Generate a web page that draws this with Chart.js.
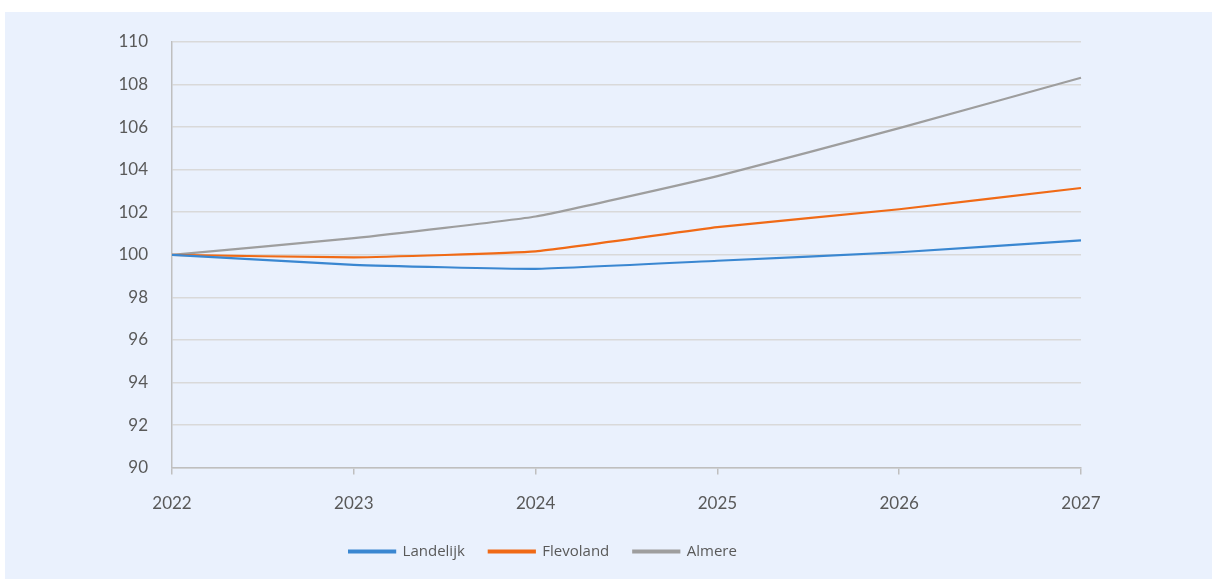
<!DOCTYPE html>
<html>
<head>
<meta charset="utf-8">
<script src="https://cdn.jsdelivr.net/npm/chart.js@4/dist/chart.umd.min.js"></script>
<style>
	html, body { margin: 0; padding: 0; background: #ffffff; }
	#panel { position: absolute; left: 5px; top: 12px; width: 1207px; height: 567px; background: #eaf1fd; }
</style>
</head>
<body>
<div id="panel"><canvas id="chart"></canvas></div>
<script>
var years = ['2022', '2023', '2024', '2025', '2026', '2027'];
var landelijk = [100, 99.53, 99.34, 99.72, 100.12, 100.68];
var flevoland = [100, 99.88, 100.16, 101.3, 102.14, 103.14];
var almere = [100, 100.78, 101.8, 103.7, 105.95, 108.32];
var yTicks = [90, 92, 94, 96, 98, 100, 102, 104, 106, 108, 110];

var colors = ['#3a87d1', '#f06a16', '#9e9e9e'];
var names = ['Landelijk', 'Flevoland', 'Almere'];
var series = [landelijk, flevoland, almere];

var datasets = [];
for (var i = 0; i < series.length; i++) {
	datasets.push({
		label: names[i],
		data: series[i],
		borderColor: colors[i],
		backgroundColor: colors[i],
		borderWidth: 2.2,
		pointRadius: 0,
		fill: false,
		tension: 0.12
	});
}

var tickFont = { family: 'Lato, "Open Sans", sans-serif', size: 17 };

var context = document.getElementById('chart').getContext('2d');
var chart = new Chart(context, {
	type: 'line',
	data: { labels: years, datasets: datasets },
	options: {
		responsive: true,
		maintainAspectRatio: false,
		animation: false,
		layout: { padding: { left: 0, right: 131, top: 30, bottom: 10 } },
		plugins: {
			legend: {
				position: 'bottom',
				labels: {
					boxWidth: 46,
					boxHeight: 2,
					padding: 24,
					color: '#595959',
					font: { family: '"Open Sans", sans-serif', size: 15 }
				}
			},
			tooltip: { enabled: false }
		},
		scales: {
			x: {
				offset: false,
				afterFit: function (scale) { scale.height = scale.height - 13; },
				grid: { drawOnChartArea: false, drawTicks: true, tickLength: 7, color: '#bfbfbf', lineWidth: 1.5 },
				border: { color: '#bfbfbf', width: 1.5 },
				ticks: { color: '#595959', font: tickFont, padding: 19, maxRotation: 0 }
			},
			y: {
				min: 90,
				max: 110,
				afterFit: function (scale) { scale.width = 167; scale.paddingTop = 0; },
				afterBuildTicks: function (scale) {
					scale.ticks = yTicks.map(function (v) { return { value: v }; });
				},
				grid: { color: '#d9d9d9', lineWidth: 1.5, drawTicks: false },
				border: { color: '#bfbfbf', width: 1.5 },
				ticks: { color: '#595959', font: tickFont, padding: 24 }
			}
		}
	}
});
</script>
</body>
</html>
